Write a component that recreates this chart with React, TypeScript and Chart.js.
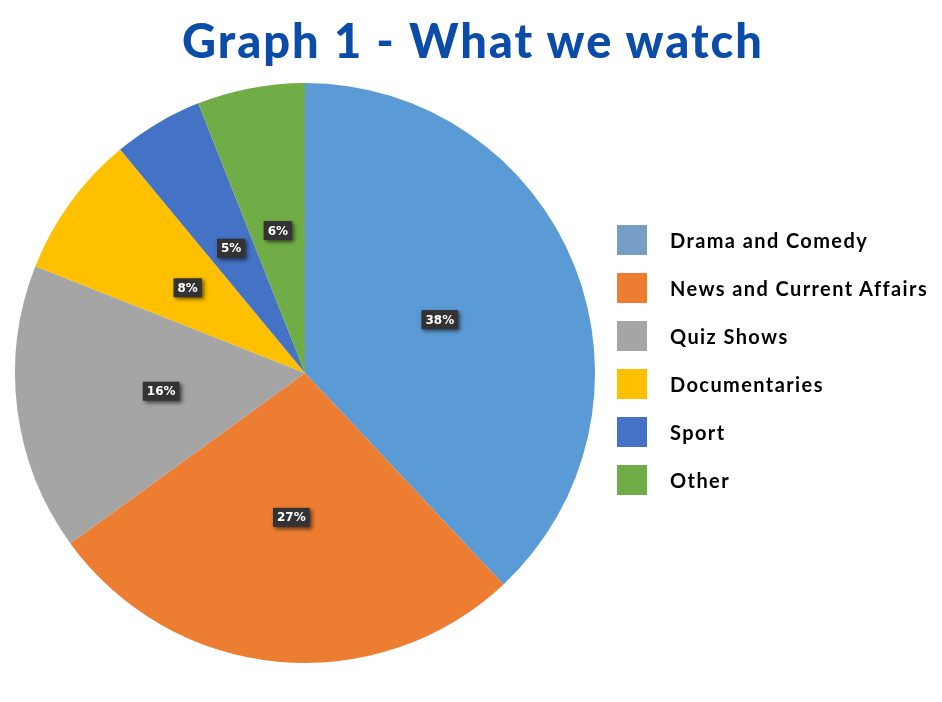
import { useEffect, useRef } from 'react';
import { Chart, ChartConfiguration, registerables } from 'chart.js';

Chart.register(...registerables);

const categories = [
  'Drama and Comedy',
  'News and Current Affairs',
  'Quiz Shows',
  'Documentaries',
  'Sport',
  'Other',
];
const shares = [38, 27, 16, 8, 5, 6];
const sliceColors = ['#5b9bd5', '#ed7d31', '#a5a5a5', '#ffc000', '#4472c4', '#70ad47'];
const legendColors = ['#779ec8', '#ed7d31', '#a5a5a5', '#ffc000', '#4472c4', '#70ad47'];

// dark boxed percentage labels, Excel style
const sliceLabels = {
  id: 'sliceLabels',
  afterDatasetsDraw(chart: Chart) {
    const ctx = chart.ctx;
    const meta = chart.getDatasetMeta(0);
    ctx.save();
    ctx.font = 'bold 12px "DejaVu Sans", sans-serif';
    ctx.textAlign = 'center';
    ctx.textBaseline = 'middle';
    meta.data.forEach((arc: any, i) => {
      const { x, y } = arc.getCenterPoint();
      const text = shares[i] + '%';
      const w = ctx.measureText(text).width + 8;
      const h = 19;
      ctx.shadowColor = 'rgba(0,0,0,0.6)';
      ctx.shadowBlur = 4;
      ctx.shadowOffsetX = 2;
      ctx.shadowOffsetY = 2;
      ctx.fillStyle = '#333333';
      ctx.fillRect(x - w / 2, y - h / 2, w, h);
      ctx.shadowColor = 'transparent';
      ctx.fillStyle = '#ffffff';
      ctx.fillText(text, x, y + 1);
    });
    ctx.restore();
  },
};

export default function App() {
  const canvasRef = useRef<HTMLCanvasElement>(null);
  const chartRef = useRef<Chart | null>(null);

  useEffect(() => {
    if (!canvasRef.current) return;
    if (chartRef.current) chartRef.current.destroy();

    const config: ChartConfiguration = {
      type: 'pie',
      data: {
        labels: categories,
        datasets: [{
          data: shares,
          backgroundColor: sliceColors,
          borderWidth: 0,
        }],
      },
      options: {
        responsive: false,
        animation: false,
        layout: { padding: { top: 83, bottom: 39, left: 15, right: 347 } },
        plugins: {
          legend: { display: false },
          tooltip: { enabled: false },
        },
      },
      plugins: [sliceLabels],
    };

    chartRef.current = new Chart(canvasRef.current, config);
    return () => {
      if (chartRef.current) {
        chartRef.current.destroy();
        chartRef.current = null;
      }
    };
  }, []);

  return (
    <div style={{ position: 'absolute', left: 0, top: 0, width: 942, height: 702, background: '#fff', overflow: 'hidden' }}>
      <canvas ref={canvasRef} width={942} height={702} style={{ position: 'absolute', left: 0, top: 0 }} />
      <div style={{
        position: 'absolute', left: 0, width: 942, top: 10, textAlign: 'center',
        paddingLeft: 2,
        fontFamily: 'Lato, sans-serif', fontWeight: 900, fontSize: 47, color: '#0a4ca8',
        letterSpacing: 2, lineHeight: '60px',
      }}>
        Graph 1 - What we watch
      </div>
      <div style={{ position: 'absolute', left: 617, top: 225 }}>
        {categories.map((c, i) => (
          <div key={c} style={{ display: 'flex', alignItems: 'center', height: 30, marginBottom: 18 }}>
            <div style={{ width: 30, height: 30, background: legendColors[i] }} />
            <span style={{
              marginLeft: 23, fontFamily: 'Lato, sans-serif', fontWeight: 700, fontSize: 20,
              letterSpacing: 1.4, color: '#000', whiteSpace: 'nowrap',
            }}>{c}</span>
          </div>
        ))}
      </div>
    </div>
  );
}
